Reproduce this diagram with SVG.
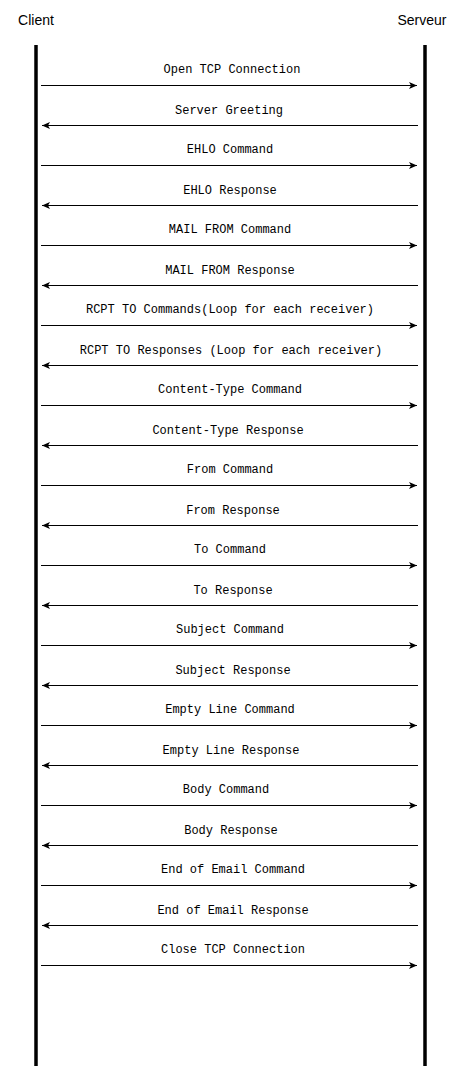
<svg xmlns="http://www.w3.org/2000/svg" width="468" height="1073" viewBox="0 0 468 1073">
<style>
.life{stroke:#000;stroke-width:3.5;fill:none}
.msg{stroke:#000;stroke-width:1;fill:none;marker-end:url(#ah)}
.lbl{font-family:"Liberation Mono","Courier New",monospace;font-size:12px;fill:#000;text-anchor:middle}
.actor{font-family:"Liberation Sans",Arial,sans-serif;font-size:14px;fill:#000;text-anchor:middle}
</style>
<defs>
<marker id="ah" markerWidth="10" markerHeight="8" refX="8" refY="4" orient="auto" markerUnits="userSpaceOnUse">
<path d="M0,0.5 L8,4 L0,7.5 L2,4 Z" fill="#000"/>
</marker>
</defs>
<rect width="468" height="1073" fill="#fff"/>
<g id="client"><text class="actor" x="36" y="25">Client</text><line class="life" x1="36" y1="45" x2="36" y2="1066"/></g>
<g id="serveur"><text class="actor" x="422" y="25">Serveur</text><line class="life" x1="425" y1="45" x2="425" y2="1066"/></g>
<g id="connectors">
<line class="msg" x1="41" y1="85.5" x2="417" y2="85.5"/>
<line class="msg" x1="418" y1="125.5" x2="42" y2="125.5"/>
<line class="msg" x1="41" y1="165.5" x2="417" y2="165.5"/>
<line class="msg" x1="418" y1="205.5" x2="42" y2="205.5"/>
<line class="msg" x1="41" y1="245.5" x2="417" y2="245.5"/>
<line class="msg" x1="418" y1="285.5" x2="42" y2="285.5"/>
<line class="msg" x1="41" y1="325.5" x2="417" y2="325.5"/>
<line class="msg" x1="418" y1="365.5" x2="42" y2="365.5"/>
<line class="msg" x1="41" y1="405.5" x2="417" y2="405.5"/>
<line class="msg" x1="418" y1="445.5" x2="42" y2="445.5"/>
<line class="msg" x1="41" y1="485.5" x2="417" y2="485.5"/>
<line class="msg" x1="418" y1="525.5" x2="42" y2="525.5"/>
<line class="msg" x1="41" y1="565.5" x2="417" y2="565.5"/>
<line class="msg" x1="418" y1="605.5" x2="42" y2="605.5"/>
<line class="msg" x1="41" y1="645.5" x2="417" y2="645.5"/>
<line class="msg" x1="418" y1="685.5" x2="42" y2="685.5"/>
<line class="msg" x1="41" y1="725.5" x2="417" y2="725.5"/>
<line class="msg" x1="418" y1="765.5" x2="42" y2="765.5"/>
<line class="msg" x1="41" y1="805.5" x2="417" y2="805.5"/>
<line class="msg" x1="418" y1="845.5" x2="42" y2="845.5"/>
<line class="msg" x1="41" y1="885.5" x2="417" y2="885.5"/>
<line class="msg" x1="418" y1="925.5" x2="42" y2="925.5"/>
<line class="msg" x1="41" y1="965.5" x2="417" y2="965.5"/>
</g>
<g id="labels">
<text class="lbl" x="232" y="73">Open TCP Connection</text>
<text class="lbl" x="229" y="114">Server Greeting</text>
<text class="lbl" x="230" y="153">EHLO Command</text>
<text class="lbl" x="230" y="194">EHLO Response</text>
<text class="lbl" x="230" y="233">MAIL FROM Command</text>
<text class="lbl" x="230" y="274">MAIL FROM Response</text>
<text class="lbl" x="230" y="313">RCPT TO Commands(Loop for each receiver)</text>
<text class="lbl" x="231" y="354">RCPT TO Responses (Loop for each receiver)</text>
<text class="lbl" x="230" y="393">Content-Type Command</text>
<text class="lbl" x="228" y="434">Content-Type Response</text>
<text class="lbl" x="230" y="473">From Command</text>
<text class="lbl" x="233" y="514">From Response</text>
<text class="lbl" x="230" y="553">To Command</text>
<text class="lbl" x="233" y="594">To Response</text>
<text class="lbl" x="230" y="633">Subject Command</text>
<text class="lbl" x="233" y="674">Subject Response</text>
<text class="lbl" x="230" y="713">Empty Line Command</text>
<text class="lbl" x="231" y="754">Empty Line Response</text>
<text class="lbl" x="226" y="793">Body Command</text>
<text class="lbl" x="231" y="834">Body Response</text>
<text class="lbl" x="233" y="873">End of Email Command</text>
<text class="lbl" x="233" y="914">End of Email Response</text>
<text class="lbl" x="233" y="953">Close TCP Connection</text>
</g>
</svg>
